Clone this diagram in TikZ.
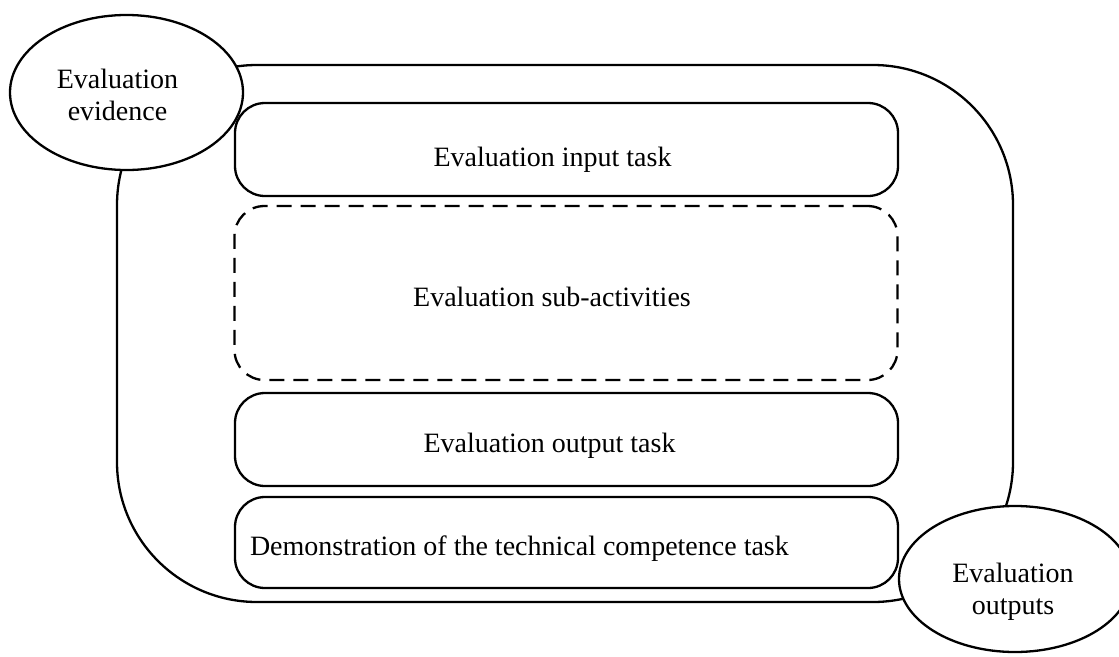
\documentclass[tikz,border=0pt]{standalone}
\usepackage{fontspec}
\setmainfont{Liberation Serif}
\usetikzlibrary{shapes.geometric}
\usetikzlibrary{positioning}

\begin{document}
\begin{tikzpicture}
		[x=1pt,y=-1pt,line width=2.3pt,
		every node/.style={font=\fontsize{28}{32}\selectfont},
		taskbox/.style={draw,rounded corners=30pt,minimum width=663pt,minimum height=93pt,inner sep=0pt},
		bubble/.style={draw,ellipse,fill=white,inner sep=0pt},
		label text/.style={align=center,inner sep=0pt}]
		\useasboundingbox (0,0) rectangle (1119,656);
		\node[draw,rounded corners=140pt,minimum width=896pt,minimum height=537pt] (frame) at (565,333.5) {};
		
		\node[taskbox] (inbox) at (566.5,149.5) {};
		\node[taskbox,dash pattern=on 15pt off 9pt,minimum height=174pt] (subbox) at (566,293) {};
		\node[taskbox] (outbox) at (566.5,439.5) {};
		\node[taskbox,minimum height=91pt] (demobox) at (566.5,542.5) {};
		
		\node[label text,anchor=base] (intxt) at ([xshift=-14pt,yshift=-17pt]inbox.center) {Evaluation input task};
		\node[label text,anchor=base] (subtxt) at ([xshift=-14pt,yshift=-13pt]subbox.center) {Evaluation sub-activities};
		\node[label text,anchor=base] (outtxt) at ([xshift=-17pt,yshift=-13pt]outbox.center) {Evaluation output task};
		\node[label text,anchor=base west] (demotxt) at ([xshift=15pt,yshift=-13pt]demobox.west) {Demonstration of the technical competence task};
		
		\node[bubble,minimum width=233pt,minimum height=155pt] (evidence) at (126.5,92.5) {};
		\node[bubble,minimum width=232pt,minimum height=146pt] (outputs) at (1015,579) {};
		\node[label text] (evidtxt) at ([xshift=-9pt,yshift=-2pt]evidence.center) {Evaluation\\evidence};
		\node[label text] (outptxt) at ([xshift=-2pt,yshift=-13pt]outputs.center) {Evaluation\\outputs};
		\end{tikzpicture}
\end{document}
